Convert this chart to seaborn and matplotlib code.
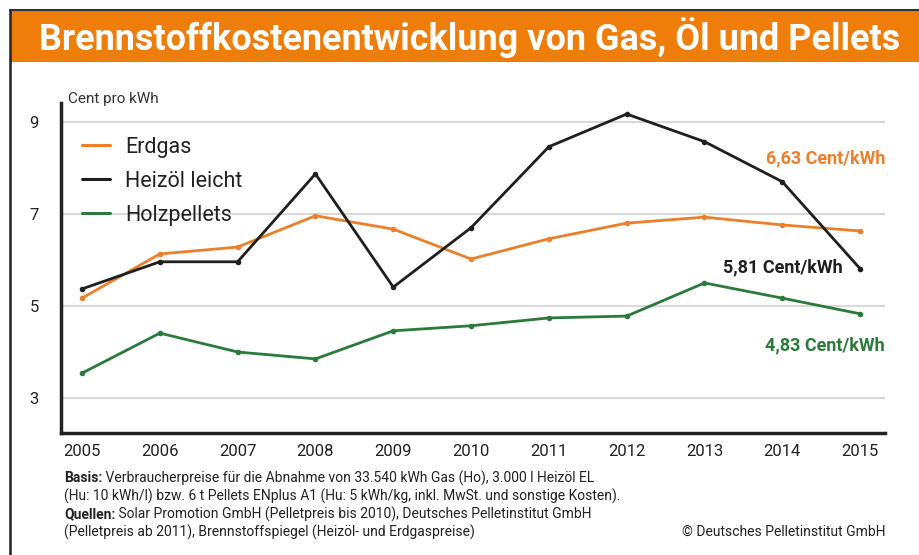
import pandas as pd
import matplotlib.pyplot as plt
import seaborn as sns
from matplotlib.patches import Rectangle
from matplotlib.lines import Line2D

# Data (Cent pro kWh)
years = list(range(2005, 2016))
erdgas = [5.17, 6.13, 6.28, 6.96, 6.67, 6.02, 6.46, 6.80, 6.93, 6.76, 6.63]
heizoel = [5.37, 5.96, 5.96, 7.87, 5.41, 6.70, 8.46, 9.17, 8.57, 7.70, 5.81]
holzpellets = [3.54, 4.41, 4.00, 3.85, 4.46, 4.57, 4.74, 4.78, 5.50, 5.17, 4.83]
series_names = ['Erdgas', 'Heizöl leicht', 'Holzpellets']
colors = ['#EB7F2B', '#1F1F1F', '#2B7A3B']
end_labels = ['6,63 Cent/kWh', '5,81 Cent/kWh', '4,83 Cent/kWh']
y_ticks = [3, 5, 7, 9]

title = 'Brennstoffkostenentwicklung von Gas, Öl und Pellets'
foot_lines = [
    ('Basis:', ' Verbraucherpreise für die Abnahme von 33.540 kWh Gas (Ho), 3.000 l Heizöl EL'),
    ('', '(Hu: 10 kWh/l) bzw. 6 t Pellets ENplus A1 (Hu: 5 kWh/kg, inkl. MwSt. und sonstige Kosten).'),
    ('Quellen:', ' Solar Promotion GmbH (Pelletpreis bis 2010), Deutsches Pelletinstitut GmbH'),
    ('', '(Pelletpreis ab 2011), Brennstoffspiegel (Heizöl- und Erdgaspreise)'),
]
copyright = '© Deutsches Pelletinstitut GmbH'

df = pd.DataFrame({
    'Jahr': years * 3,
    'Wert': erdgas + heizoel + holzpellets,
    'Serie': [series_names[0]] * 11 + [series_names[1]] * 11 + [series_names[2]] * 11,
})

sns.set_theme(style='white')
plt.rcParams['font.family'] = ['Roboto', 'DejaVu Sans']

W, H = 919, 555
fig = plt.figure(figsize=(W / 100, H / 100), dpi=100)
fig.patch.set_facecolor('white')
renderer = fig.canvas.get_renderer()

# orange banner and frame
fig.patches.append(Rectangle((10 / W, 1 - 62 / H), 1, 51 / H, transform=fig.transFigure,
                             facecolor='#EF7D0A', edgecolor='none', zorder=0))
fig.lines.append(Line2D([10 / W, 1], [1 - 10 / H, 1 - 10 / H], transform=fig.transFigure,
                        color='#333333', lw=1.5))
fig.lines.append(Line2D([10 / W, 10 / W], [0, 1 - 10 / H], transform=fig.transFigure,
                        color='#222222', lw=1.8))
tt = fig.text(470 / W, 1 - 38 / H, title, color='white', fontsize=27, fontweight='bold',
              ha='center', va='center')
# shrink title to fit the banner width
tw = tt.get_window_extent(renderer).width
if tw > 862:
    tt.set_fontsize(27 * 862 / tw)

ax = fig.add_axes([61 / W, 1 - 433 / H, (885 - 61) / W, (433 - 103) / H])
sns.lineplot(data=df, x='Jahr', y='Wert', hue='Serie', palette=colors, marker='o',
             markersize=4, markeredgewidth=0, linewidth=2, ax=ax, legend=False)

ax.set_xlim(2004.73, 2015.32)
ax.set_ylim(2.24, 9.41)
ax.set_xticks(years)
ax.set_xticklabels([str(y) for y in years], fontsize=12, color='#222222')
ax.set_yticks(y_ticks)
ax.set_yticklabels([str(v) for v in y_ticks], fontsize=12, color='#222222')
ax.tick_params(axis='x', direction='in', length=11, width=1.5, color='#222222', pad=8)
ax.tick_params(axis='y', length=0, pad=16)
ax.set_xlabel('')
ax.set_ylabel('')
for v in y_ticks:
    ax.axhline(v, color='#D9D9D9', lw=1.5, zorder=0)
for s in ['top', 'right']:
    ax.spines[s].set_visible(False)
for s in ['left', 'bottom']:
    ax.spines[s].set_color('#222222')
    ax.spines[s].set_linewidth(2.5)

ax.text(68 / W, 1 - 99 / H, 'Cent pro kWh', transform=fig.transFigure, fontsize=11,
        color='#333333', va='center')

# legend with plain line handles
handles = [Line2D([], [], color=c, lw=2.2) for c in colors]
leg = ax.legend(handles, series_names, loc='upper left', bbox_to_anchor=(0.0255, 0.897),
                frameon=False, fontsize=15.5, borderaxespad=0, borderpad=0,
                handlelength=1.3, handletextpad=0.7, labelspacing=0.6)
for t in leg.get_texts():
    t.set_color('#222222')

# end labels
label_pos = [(885, 158), (843, 267), (885, 345)]
for lab, c, (px, py) in zip(end_labels, colors, label_pos):
    fig.text(px / W, 1 - py / H, lab, color=c, fontsize=13, fontweight='bold',
             ha='right', va='center')

# footnotes
for i, (bold, rest) in enumerate(foot_lines):
    y = 1 - (478 + i * 18) / H
    x0 = 64 / W
    if bold:
        tb = fig.text(x0, y, bold, fontsize=10, fontweight='bold', color='#222222', va='center')
        x0 = tb.get_window_extent(renderer).x1 / W
    fig.text(x0, y, rest, fontsize=10, color='#222222', va='center')
fig.text(885 / W, 1 - 532 / H, copyright, fontsize=10, color='#222222', ha='right', va='center')

fig.savefig('out.png', dpi=100)
